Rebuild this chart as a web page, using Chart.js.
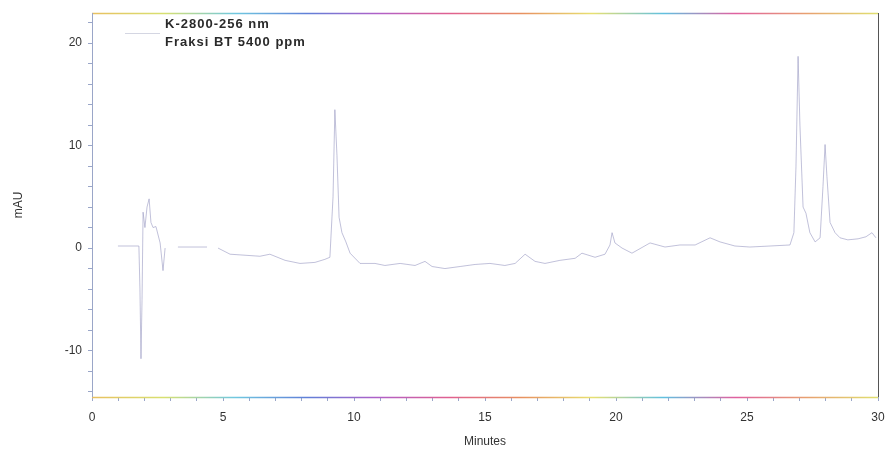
<!DOCTYPE html>
<html>
<head>
<meta charset="utf-8">
<script src="https://cdn.jsdelivr.net/npm/chart.js@4.4.1/dist/chart.umd.min.js"></script>
<style>
  html, body { margin: 0; padding: 0; background: #ffffff; }
  #wrap { width: 885px; height: 453px; position: relative; }
</style>
</head>
<body>
<div id="wrap"><canvas id="c"></canvas></div>
<script>
// ---- data ----
const legendLines = ["K-2800-256 nm", "Fraksi BT 5400 ppm"];
const xTitle = "Minutes";
const yTitle = "mAU";
const yLabelTicks = [-10, 0, 10, 20];
const xLabelTicks = [0, 5, 10, 15, 20, 25, 30];

// retention time (min); null marks gaps in the recorded trace
const timeMin = [
  0.99, 1.79, 1.83, 1.87, 1.91, 1.95, 2.02, 2.10, 2.18, 2.25, 2.33, 2.44, 2.60, 2.71, 2.79,
  3.0,
  3.28, 4.39,
  4.6,
  4.81, 5.27, 5.84, 6.41, 6.79, 7.37, 7.94, 8.51, 8.89, 9.08, 9.20, 9.27, 9.35, 9.43, 9.54,
  9.69, 9.85, 10.23, 10.80, 11.18, 11.76, 12.33, 12.71, 12.98, 13.47, 14.05, 14.62, 15.19,
  15.76, 16.15, 16.53, 16.91, 17.29, 17.86, 18.44, 18.70, 19.20, 19.58, 19.77, 19.85, 19.96,
  20.23, 20.61, 21.30, 21.87, 22.44, 23.02, 23.59, 23.97, 24.54, 25.11, 25.88, 26.64, 26.79,
  26.87, 26.95, 27.02, 27.14, 27.25, 27.40, 27.60, 27.79, 27.90, 27.98, 28.05, 28.17, 28.36,
  28.55, 28.85, 29.24, 29.54, 29.77, 29.92
];
const absorbance = [
  0.2, 0.2, -4.0, -10.8, -5.0, 3.5, 2.0, 4.0, 4.8, 2.5, 2.0, 2.1, 0.5, -2.2, 0.0,
  null,
  0.1, 0.1,
  null,
  0.0, -0.6, -0.7, -0.8, -0.6, -1.2, -1.5, -1.4, -1.1, -0.9, 5.0, 13.5, 9.0, 3.0, 1.5,
  0.6, -0.5, -1.5, -1.5, -1.7, -1.5, -1.7, -1.3, -1.8, -2.0, -1.8, -1.6, -1.5,
  -1.7, -1.5, -0.6, -1.3, -1.5, -1.2, -1.0, -0.5, -0.9, -0.6, 0.3, 1.5, 0.5,
  0.0, -0.5, 0.5, 0.1, 0.3, 0.3, 1.0, 0.6, 0.2, 0.1, 0.2, 0.3, 1.5,
  8.0, 18.7, 12.0, 4.0, 3.4, 1.5, 0.6, 1.0, 6.0, 10.1, 7.0, 2.5, 1.5,
  1.0, 0.8, 0.9, 1.1, 1.5, 1.0
];

const points = timeMin.map((t, i) => ({ x: t, y: absorbance[i] }));

// ---- frame + legend plugin ----
const framePlugin = {
  id: 'frame',
  afterDraw(chart) {
    const { ctx, chartArea: a } = chart;
    ctx.save();
    const rainbow = (y) => {
      const g = ctx.createLinearGradient(a.left, 0, a.right, 0);
      const cols = ['#e8c060', '#d8e070', '#70c8e0', '#6080d8', '#b060c8', '#e06090', '#e89060', '#e8e070', '#60c0e0', '#e060a0', '#e8a070', '#e0e070'];
      cols.forEach((c, i) => g.addColorStop(i / (cols.length - 1), c));
      ctx.strokeStyle = g;
      ctx.lineWidth = 1.5;
      ctx.beginPath(); ctx.moveTo(a.left, y); ctx.lineTo(a.right, y); ctx.stroke();
    };
    rainbow(a.top + 0.5);
    rainbow(a.bottom + 0.5);
    ctx.lineWidth = 1;
    ctx.strokeStyle = '#9aa6c8';
    ctx.beginPath(); ctx.moveTo(a.left + 0.5, a.top); ctx.lineTo(a.left + 0.5, a.bottom); ctx.stroke();
    ctx.strokeStyle = '#555555';
    ctx.beginPath(); ctx.moveTo(a.right + 0.5, a.top); ctx.lineTo(a.right + 0.5, a.bottom); ctx.stroke();

    // legend
    ctx.strokeStyle = '#d4d6e2';
    ctx.beginPath(); ctx.moveTo(125, 33.5); ctx.lineTo(160, 33.5); ctx.stroke();
    ctx.fillStyle = '#2a2a2a';
    ctx.font = 'bold 13px "Liberation Sans", Arial, sans-serif';
    try { ctx.letterSpacing = '1px'; } catch (e) {}
    ctx.textBaseline = 'middle';
    ctx.textAlign = 'left';
    ctx.fillText(legendLines[0], 165, 24);
    ctx.fillText(legendLines[1], 165, 42);
    ctx.restore();
  }
};

const tickFont = { family: '"Liberation Sans", Arial, sans-serif', size: 12 };

new Chart(document.getElementById('c'), {
  type: 'line',
  data: {
    datasets: [{
      data: points,
      borderColor: 'rgba(160,160,198,0.65)',
      borderWidth: 1,
      pointRadius: 0,
      tension: 0,
      spanGaps: false,
      fill: false
    }]
  },
  options: {
    responsive: true,
    maintainAspectRatio: false,
    animation: false,
    layout: { padding: { left: 0, right: 7, top: 13, bottom: 0 } },
    plugins: { legend: { display: false }, tooltip: { enabled: false } },
    scales: {
      x: {
        type: 'linear',
        min: 0, max: 30,
        afterBuildTicks(s) {
          const t = [];
          for (let v = 0; v <= 30; v++) t.push({ value: v });
          s.ticks = t;
        },
        afterFit(s) { s.height = 56; s.paddingRight = 0; s.paddingLeft = 0; },
        ticks: {
          autoSkip: false,
          maxRotation: 0,
          padding: 9,
          color: '#333333',
          font: tickFont,
          callback: (v) => xLabelTicks.includes(v) ? String(v) : ''
        },
        grid: { drawOnChartArea: false, drawTicks: true, tickLength: 4, color: '#9aa6c8' },
        border: { display: false },
        title: { display: true, text: xTitle, color: '#333333', font: tickFont, padding: { top: 0, bottom: 4 } }
      },
      y: {
        type: 'linear',
        min: -14.53, max: 22.93,
        afterBuildTicks(s) {
          const t = [];
          for (let v = -14; v <= 22; v += 2) t.push({ value: v });
          s.ticks = t;
        },
        afterFit(s) { s.width = 92; s.paddingTop = 0; s.paddingBottom = 0; },
        ticks: {
          autoSkip: false,
          padding: 6,
          color: '#333333',
          font: tickFont,
          callback: (v) => yLabelTicks.includes(v) ? String(v) : ''
        },
        grid: { drawOnChartArea: false, drawTicks: true, tickLength: 4, color: '#9aa6c8' },
        border: { display: false },
        title: { display: true, text: yTitle, color: '#333333', font: tickFont, padding: { top: 11, bottom: 0 } }
      }
    }
  },
  plugins: [framePlugin]
});
</script>
</body>
</html>
